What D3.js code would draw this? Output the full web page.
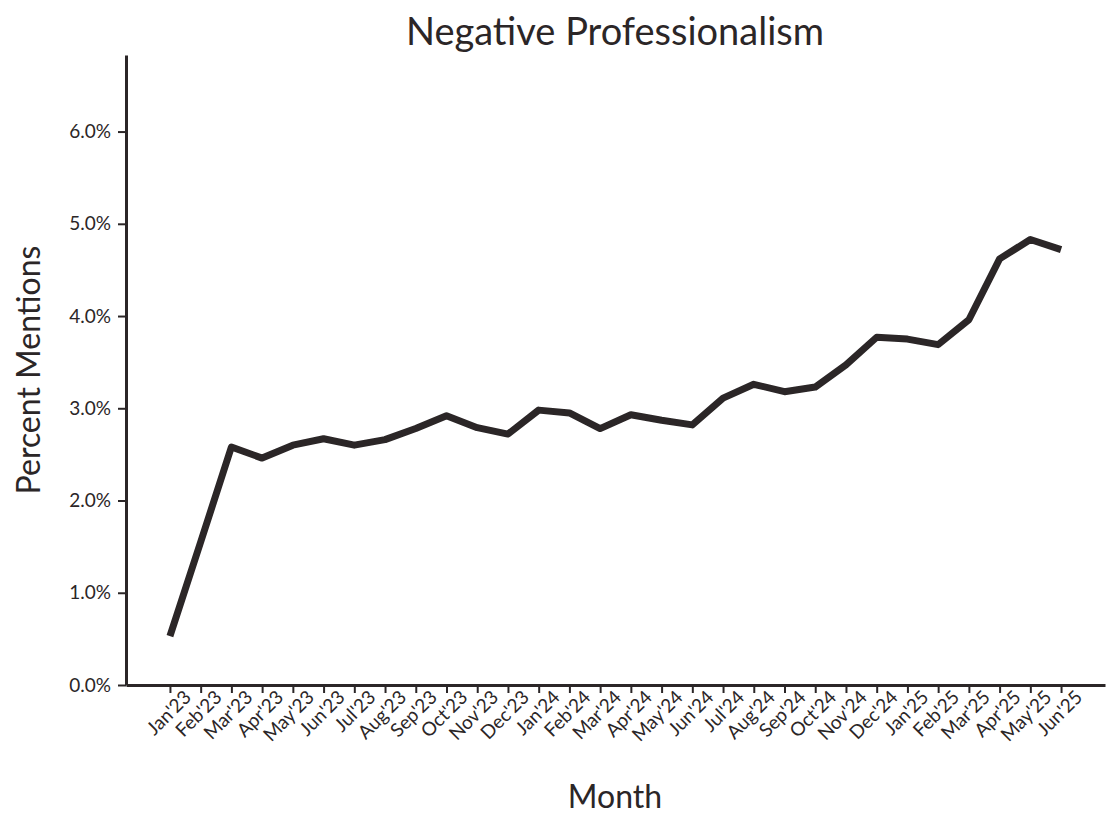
<!DOCTYPE html>
<html>
<head>
<meta charset="utf-8">
<script src="https://cdn.jsdelivr.net/npm/d3@7"></script>
<style>
  body { margin: 0; background: #fff; }
  text { font-family: Lato, "Open Sans", sans-serif; fill: #2b2627; }
</style>
</head>
<body>
<svg id="chart" width="1120" height="828"></svg>
<script>
// data
const months = ["Jan'23","Feb'23","Mar'23","Apr'23","May'23","Jun'23","Jul'23","Aug'23","Sep'23","Oct'23","Nov'23","Dec'23",
  "Jan'24","Feb'24","Mar'24","Apr'24","May'24","Jun'24","Jul'24","Aug'24","Sep'24","Oct'24","Nov'24","Dec'24",
  "Jan'25","Feb'25","Mar'25","Apr'25","May'25","Jun'25"];
const mentions = [0.53,1.55,2.58,2.46,2.60,2.67,2.60,2.66,2.78,2.92,2.79,2.72,
  2.98,2.95,2.78,2.93,2.87,2.82,3.11,3.26,3.18,3.23,3.47,3.77,
  3.75,3.69,3.96,4.62,4.83,4.72];
const yTicks = [0,1,2,3,4,5,6];

const ink = "#2b2627";
const svg = d3.select("#chart");
const plotLeft = 126, plotRight = 1105, plotTop = 55, plotBottom = 685;

const x = d3.scalePoint().domain(months).range([plotLeft, plotRight]).padding(1.43);
const y = d3.scaleLinear().domain([0, 6.83]).range([plotBottom, plotTop]);

// title
svg.append("text").attr("x", 615).attr("y", 45).attr("text-anchor", "middle")
  .attr("font-size", 38).text("Negative Professionalism");

// y axis
const gy = svg.append("g").attr("transform", `translate(${plotLeft},0)`)
  .call(d3.axisLeft(y).tickValues(yTicks).tickFormat(d => d.toFixed(1) + "%").tickSize(8).tickSizeOuter(0));
gy.select(".domain").attr("stroke", ink).attr("stroke-width", 3);
gy.selectAll(".tick line").attr("stroke", ink).attr("stroke-width", 2);
gy.selectAll(".tick text").attr("font-size", 19).attr("fill", ink).attr("dx", "-4");

// x axis
const gx = svg.append("g").attr("transform", `translate(0,${plotBottom})`)
  .call(d3.axisBottom(x).tickSize(8).tickSizeOuter(0));
gx.select(".domain").attr("stroke", ink).attr("stroke-width", 3);
gx.selectAll(".tick line").attr("stroke", ink).attr("stroke-width", 2);
gx.selectAll(".tick text").attr("font-size", 19).attr("fill", ink)
  .attr("text-anchor", "end").attr("dx", "6").attr("dy", "14")
  .attr("transform", "rotate(-45)");

// axis labels
svg.append("text").attr("x", 615).attr("y", 808).attr("text-anchor", "middle")
  .attr("font-size", 32).text("Month");
svg.append("text").attr("transform", "translate(40,370) rotate(-90)").attr("text-anchor", "middle")
  .attr("font-size", 32).text("Percent Mentions");

// line
svg.append("path").datum(mentions)
  .attr("fill", "none").attr("stroke", ink).attr("stroke-width", 7)
  .attr("stroke-linejoin", "round")
  .attr("d", d3.line().x((d, i) => x(months[i])).y(d => y(d)));
</script>
</body>
</html>
